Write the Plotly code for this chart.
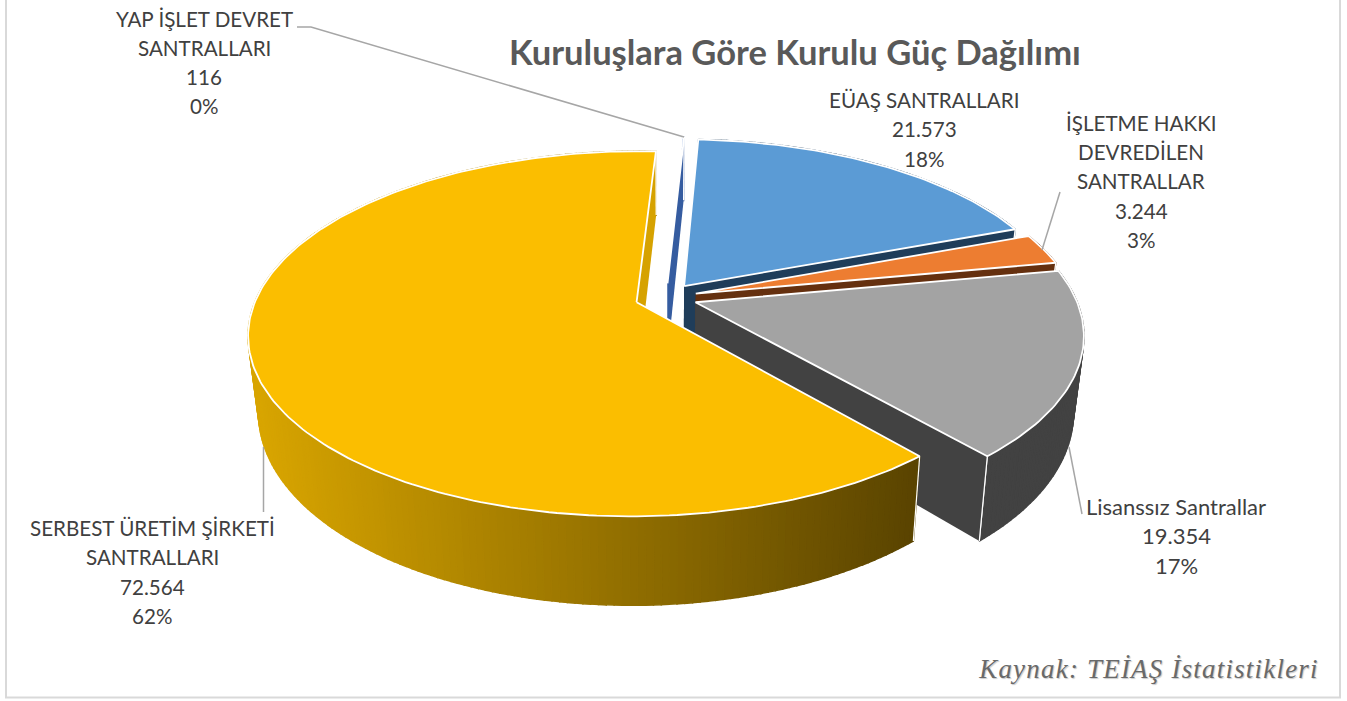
import math
import plotly.graph_objects as go

# ---- data ----
categories = ["EÜAŞ SANTRALLARI", "İŞLETME HAKKI DEVREDİLEN SANTRALLAR", "Lisanssız Santrallar",
              "SERBEST ÜRETİM ŞİRKETİ SANTRALLARI", "YAP İŞLET DEVRET SANTRALLARI"]
values = [21573, 3244, 19354, 72564, 116]
value_labels = ["21.573", "3.244", "19.354", "72.564", "116"]
percent_labels = ["18%", "3%", "17%", "62%", "0%"]
top_colors = ["#5B9BD5", "#ED7D31", "#A3A3A3", "#FBBE00", "#4472C4"]
wall_colors = ["#1F3D5A", "#65300F", "#424242", "#D6A200", "#355CA0"]
draw_order = [4, 0, 1, 2, 3]

# ---- projection of the tilted disc ----
OX, OY, R, TILT, PERSP = 666.0, 297.5, 380.0, 0.462, 0.1717
PULL, FIRST_ANGLE = 31.0, 3.0
BOTTOM_SHRINK = 0.975


def project(xd, yd):
    s = 1.0 / (1.0 + PERSP * yd / R)
    return OX + xd * s, OY - TILT * yd * s


def lower(p):
    return OX + (p[0] - OX) * BOTTOM_SHRINK, p[1] + 63 + 0.069 * (p[1] - 140)


def lerp_color(c1, c2, t):
    t = max(0.0, min(1.0, t))
    return "rgb(%d,%d,%d)" % tuple(round(a + (b - a) * t) for a, b in zip(c1, c2))


fig = go.Figure()


def poly(pts, fill, line="rgba(0,0,0,0)", width=0):
    fig.add_trace(go.Scatter(x=[p[0] for p in pts] + [pts[0][0]], y=[p[1] for p in pts] + [pts[0][1]],
                             mode="lines", fill="toself", fillcolor=fill,
                             line=dict(color=line, width=width), hoverinfo="skip", showlegend=False))


def seg(a, b, color="white", width=1.5):
    fig.add_trace(go.Scatter(x=[a[0], b[0]], y=[a[1], b[1]], mode="lines",
                             line=dict(color=color, width=width), hoverinfo="skip", showlegend=False))


total = sum(values)
starts, a = [], FIRST_ANGLE
for val in values:
    starts.append(a)
    a += val / total * 360.0

for i in draw_order:
    a0 = starts[i]
    a1 = a0 + values[i] / total * 360.0
    mid = math.radians((a0 + a1) / 2)
    ex, ey = PULL * math.sin(mid), PULL * math.cos(mid)
    steps = max(2, int(a1 - a0))
    rim = []
    for k in range(steps + 1):
        t = math.radians(a0 + (a1 - a0) * k / steps)
        rim.append(project(ex + R * math.sin(t), ey + R * math.cos(t)))
    apex = project(ex, ey)
    # start cut wall
    poly([apex, rim[0], lower(rim[0]), lower(apex)], wall_colors[i])
    # outer wall
    for k in range(steps):
        p, q = rim[k], rim[k + 1]
        if i == 3:
            col = lerp_color((216, 165, 0), (90, 68, 0), ((p[0] + q[0]) / 2 - 255) / 660)
        else:
            col = wall_colors[i]
        poly([p, q, lower(q), lower(p)], col, col, 1.5)
    seg(rim[0], lower(rim[0]), width=1.2)
    seg(rim[-1], lower(rim[-1]), width=1.2)
    # end cut wall
    poly([apex, rim[-1], lower(rim[-1]), lower(apex)], wall_colors[i])
    seg(rim[-1], lower(rim[-1]), width=1.2)
    # top
    poly([apex] + rim, top_colors[i], "white", 1.8)

# ---- text ----
TEXT = "#404040"
label_places = {
    0: (924, [100, 129, 159], ["EÜAŞ SANTRALLARI"], 20.6),
    1: (1141, [123, 152, 181, 211, 240], ["İŞLETME HAKKI", "DEVREDİLEN", "SANTRALLAR"], 20.6),
    2: (1176, [506, 535, 565], ["Lisanssız Santrallar"], 22),
    3: (152, [528, 557, 587, 616], ["SERBEST ÜRETİM ŞİRKETİ", "SANTRALLARI"], 20.6),
    4: (204, [19, 48, 77, 106], ["YAP İŞLET DEVRET", "SANTRALLARI"], 20.6),
}
ann = []
for i, (cx, ys, names, size) in label_places.items():
    for line, y in zip(names + [value_labels[i], percent_labels[i]], ys):
        ann.append(dict(x=cx, y=y, text=line, showarrow=False, xanchor="center", yanchor="middle",
                        font=dict(family="Lato", size=size, color=TEXT)))
ann.append(dict(x=795, y=51, text="<b>Kuruluşlara Göre Kurulu Güç Dağılımı</b>", showarrow=False,
                xanchor="center", yanchor="middle", font=dict(family="Lato", size=34.5, color="#595959")))
ann.append(dict(x=1148.5, y=669, text="<i>Kaynak: TEİAŞ İstatistikleri</i>", showarrow=False,
                xanchor="center", yanchor="middle",
                font=dict(family="Liberation Serif", size=27, color="#696969", shadow="1px 1px 1px #c8c8c8")))

LEADER = dict(color="#A6A6A6", width=1.5)
shapes = [
    dict(type="rect", x0=6, y0=-10, x1=1340, y1=697.5, line=dict(color="#D9D9D9", width=2), layer="below"),
    dict(type="path", path="M297,27 L311,27 L684,137", line=LEADER),
    dict(type="path", path="M1060,192 L1042,250", line=LEADER),
    dict(type="path", path="M1069,447 L1082,514", line=LEADER),
    dict(type="path", path="M263.5,447 L263.5,512", line=LEADER),
]

fig.update_layout(width=1347, height=701, margin=dict(l=0, r=0, t=0, b=0), autosize=False,
                  paper_bgcolor="white", plot_bgcolor="white", showlegend=False,
                  xaxis=dict(range=[0, 1347], visible=False, fixedrange=True),
                  yaxis=dict(range=[701, 0], visible=False, fixedrange=True),
                  annotations=ann, shapes=shapes)
post = ("document.body.style.margin='0';document.body.style.overflow='hidden';"
        "document.querySelectorAll('.annotation-text').forEach(function(t){"
        "if(t.textContent.indexOf('Kaynak')===0){t.style.letterSpacing='1.2px';}});")
fig.write_html("out.html", config={"displayModeBar": False}, post_script=post)
